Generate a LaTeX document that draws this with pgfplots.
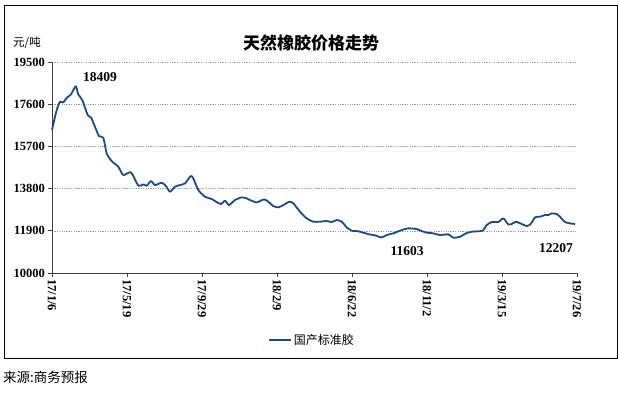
\documentclass[border=0pt]{standalone}
\usepackage{fontspec}
\setmainfont{Liberation Serif}
\newfontfamily\cjk{Noto Sans CJK SC}
\usepackage{pgfplots}
\pgfplotsset{compat=1.18}
\definecolor{lineblue}{HTML}{1F4A7E}
\begin{document}
\begin{tikzpicture}
\path[use as bounding box] (0pt,0pt) rectangle (619pt,394pt);
\draw[black, line width=0.8pt] (4pt,36pt) rectangle (617pt,389pt);
\begin{axis}[
  at={(52pt,121pt)}, anchor=south west,
  scale only axis, width=525pt, height=211pt,
  xmin=0, xmax=525, ymin=10000, ymax=19500,
  axis x line*=bottom, axis y line*=left,
  axis line style={black!75, line width=0.8pt},
  xtick={0,75,150,225,300,375,450,525},
  xticklabels={17/1/6,17/5/19,17/9/29,18/2/9,18/6/22,18/11/2,19/3/15,19/7/26},
  ytick={10000,11900,13800,15700,17600,19500},
  scaled y ticks=false,
  ymajorgrids, grid style={dash pattern=on 1.2pt off 1.2pt, gray!75, line width=0.5pt},
  tick align=outside, major tick length=4pt,
  tick style={black!75, line width=0.8pt},
  /pgf/number format/1000 sep={},
  /pgf/number format/assume math mode=true,
  ticklabel style={font=\fontsize{12.5}{14}\selectfont\bfseries},
  xticklabel style={rotate=-90, anchor=west, inner sep=2pt},
  yticklabel style={inner sep=3pt},
  legend style={at={(0.495,-0.3175)}, anchor=center, draw=none, fill=none,
    font=\cjk\fontsize{12}{14}\selectfont, inner sep=1pt},
  legend image code/.code={\draw[#1] (0pt,0pt) -- (22pt,0pt);},
  clip=false,
]
\addplot[lineblue, line width=1.8pt, line join=round, smooth, tension=0.4] coordinates {
(0,16435) (3,17035) (5.7,17485) (8,17710) (11.3,17680) (14.7,17890) (19,18040)
(23.7,18409) (26.3,18040) (30.3,17785) (35.7,17110) (39,17005) (42.3,16660)
(47,16165) (51.3,16090) (54.7,15385) (59.7,15040) (66.3,14785) (71.3,14410)
(79,14530) (86.3,13930) (91.3,13990) (94.7,13930) (99,14140) (103,13960)
(109.7,14065) (114,13915) (118,13660) (123,13885) (128,13960) (133,14035)
(138.7,14365) (141.3,14260) (146.3,13735) (153,13435) (159.7,13330) (164,13210)
(169,13105) (173,13255) (177,13060) (183,13285) (189.7,13405) (194.7,13360)
(198,13285) (204.7,13180) (212,13315) (216.3,13210) (221.3,13015) (226.3,12955)
(231.3,13060) (237.3,13210) (241.3,13135) (248,12760) (254.7,12460) (261.3,12310)
(268,12310) (274.7,12340) (279.7,12295) (284.7,12385) (289.7,12310) (294.7,12055)
(299.7,11905) (304.7,11890) (308,11860) (311.3,11815) (317.3,11740) (323,11695)
(329.7,11603) (334.7,11710) (341.3,11785) (349.7,11935) (356.3,12010) (364.7,11980)
(369.7,11890) (374.7,11815) (381.3,11785) (388,11710) (396.3,11740) (401.3,11590)
(408,11635) (414,11785) (419.7,11860) (424.7,11875) (430.7,11905) (434.7,12160)
(439.7,12295) (446.3,12295) (451.3,12460) (456.3,12190) (459.7,12205) (464,12310)
(469.7,12205) (474.7,12115) (478.7,12205) (483,12505) (488,12535) (493,12610)
(496.3,12610) (499.7,12685) (504.7,12655) (508,12535) (513,12295) (518,12235)
(523,12207)
};
\addlegendentry{国产标准胶}
\node[font=\fontsize{13.5}{15}\selectfont\bfseries] at (axis cs:48,18820) {18409};
\node[font=\fontsize{13.5}{15}\selectfont\bfseries] at (axis cs:355,11003) {11603};
\node[font=\fontsize{13.5}{15}\selectfont\bfseries] at (axis cs:504,11125) {12207};
\end{axis}
\node[font=\cjk\fontsize{17}{20}\selectfont\bfseries] at (311pt,351pt) {天然橡胶价格走势};
\node[font=\cjk\fontsize{11.5}{14}\selectfont] at (27pt,351pt) {元/吨};
\node[font=\cjk\fontsize{13.5}{16}\selectfont, anchor=west, inner sep=0pt] at (3pt,17pt) {来源:商务预报};
\end{tikzpicture}
\end{document}
